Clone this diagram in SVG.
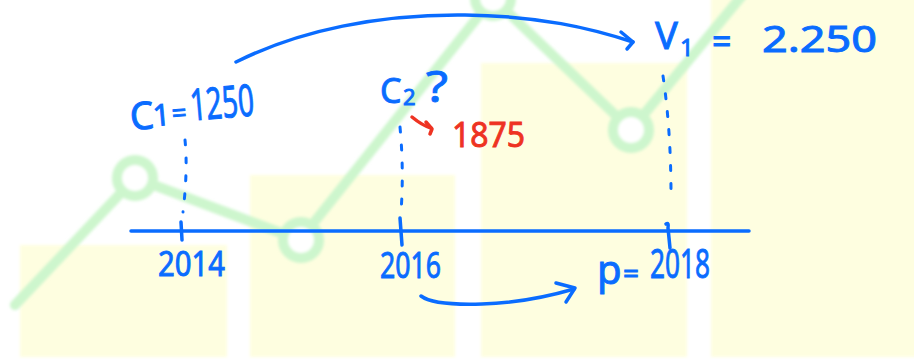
<svg xmlns="http://www.w3.org/2000/svg" width="914" height="359" viewBox="0 0 914 359">
<style>
.bar{fill:#fefee0}
.gl{fill:none;stroke:#cdf6cd;stroke-width:10;stroke-linecap:round;stroke-linejoin:round}
.gc{fill:#ffffff;stroke:#cdf6cd;stroke-width:10}
.bs{fill:none;stroke:#0a6cff;stroke-width:3.5;stroke-linecap:round;stroke-linejoin:round}
.rs{fill:none;stroke:#ee3322;stroke-width:3.5;stroke-linecap:round;stroke-linejoin:round}
.dot{fill:none;stroke:#0a6cff;stroke-width:3;stroke-linecap:round;stroke-dasharray:5 13}
.bt{fill:#0a6cff;stroke:#0a6cff;stroke-width:0.9;font-family:"Noto Sans","DejaVu Sans",sans-serif}
.rt{fill:#ee3322;stroke:#ee3322;stroke-width:0.9;font-family:"Noto Sans","DejaVu Sans",sans-serif}
</style>
<defs>
<filter id="soft" x="-5%" y="-5%" width="110%" height="110%"><feGaussianBlur stdDeviation="1.5"/></filter>
</defs>
<rect width="914" height="359" fill="#ffffff"/>
<g id="background">
<g filter="url(#soft)">
<rect class="bar" x="20" y="245" width="207" height="112"/>
<rect class="bar" x="250" y="175" width="205" height="182"/>
<rect class="bar" x="481" y="63" width="206" height="294"/>
<rect class="bar" x="711" y="-5" width="208" height="362"/>
</g>
<g filter="url(#soft)">
<polyline class="gl" points="15,305 135,178 300,240 493,-2 631,130 745,-8"/>
<circle class="gc" cx="135" cy="178" r="18"/>
<circle class="gc" cx="301" cy="240" r="18"/>
<circle class="gc" cx="493" cy="-2" r="18"/>
<circle class="gc" cx="631" cy="130" r="18"/>
</g>
</g>
<g id="axis">
<path class="bs" d="M131,231 L749,231" stroke-width="4"/>
<path class="bs" d="M181,222 L182,240"/>
<path class="bs" d="M400,218 L402,245"/>
<path class="bs" d="M666,224 Q669,222 668,228 L670,248"/>
</g>
<g id="node-2014">
<path class="dot" d="M185,140 Q188,170 183,212"/>
<text class="bt" x="158" y="276" font-size="34" textLength="67" lengthAdjust="spacingAndGlyphs">2014</text>
</g>
<g id="node-2016">
<path class="dot" d="M400,127 Q404,170 401,212"/>
<text class="bt" x="380" y="278" font-size="36" textLength="61" lengthAdjust="spacingAndGlyphs">2016</text>
</g>
<g id="node-2018">
<path class="dot" d="M663,76 Q671,130 671,196"/>
<text class="bt" font-size="40"><tspan x="597" y="284">p</tspan><tspan x="623" y="283" font-size="28">=</tspan><tspan x="650" y="278" font-size="40" textLength="60" lengthAdjust="spacingAndGlyphs">2018</tspan></text>
</g>
<g id="node-c1">
<text class="bt" transform="rotate(-5 133 130)" font-size="38"><tspan x="131" y="130">C</tspan><tspan x="154" y="128" font-size="30">1</tspan><tspan x="173" y="126" font-size="26">=</tspan><tspan x="192" y="126" font-size="44" textLength="64" lengthAdjust="spacingAndGlyphs">1250</tspan></text>
</g>
<g id="node-c2">
<text class="bt" font-size="34"><tspan x="380" y="103">C</tspan><tspan x="403" y="105" font-size="22">2</tspan><tspan x="426" y="102" font-size="44" textLength="22" lengthAdjust="spacingAndGlyphs">?</tspan></text>
</g>
<g id="node-1875">
<text class="rt" x="452" y="147" font-size="34" textLength="73" lengthAdjust="spacingAndGlyphs">1875</text>
</g>
<g id="node-v1">
<text class="bt" font-size="38"><tspan x="655" y="49">V</tspan><tspan x="680" y="56" font-size="24">1</tspan><tspan x="712" y="54" font-size="34">=</tspan><tspan x="762" y="52" font-size="36" textLength="115" lengthAdjust="spacingAndGlyphs">2.250</tspan></text>
</g>
<g id="connectors">
<path class="bs" d="M236,62 C300,30 380,14 465,15 C540,16 590,28 633,42"/>
<path class="bs" d="M621,32 L633,42 L627,49"/>
<path class="bs" d="M421,296 C430,303 450,305 482,304 C520,303 550,296 574,289"/>
<path class="bs" d="M556,283 L575,288 L566,302"/>
<path class="rs" d="M412,117 C418,122 424,126 431,128"/>
<path class="rs" d="M426,122 L432,129 L430,134"/>
</g>
</svg>
